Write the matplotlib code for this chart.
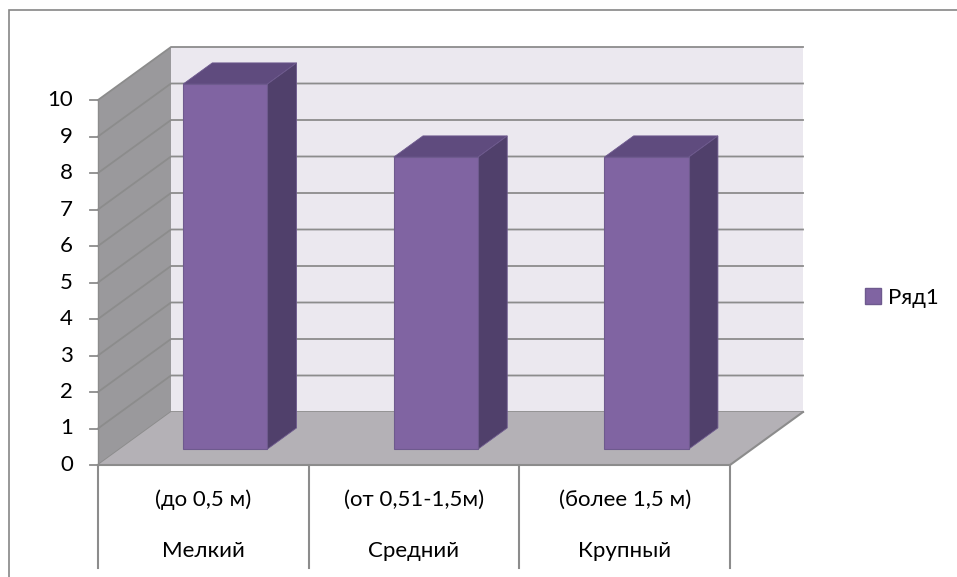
import matplotlib.pyplot as plt
from matplotlib.patches import Polygon, Rectangle, Patch
import numpy as np

# data
size_labels = ["(до 0,5 м)", "(от 0,51-1,5м)", "(более 1,5 м)"]
class_labels = ["Мелкий", "Средний", "Крупный"]
values = [10, 8, 8]
series_name = "Ряд1"
y_ticks = list(range(0, 11))

# style
BAR_FRONT = "#8064A2"
BAR_TOP = "#5F4B7E"
BAR_SIDE = "#50406B"
BAR_EDGE = "#6E5A8E"
BACK_WALL = "#EBE8EF"
SIDE_WALL = "#9A999C"
FLOOR = "#B4B1B6"
GRID = "#8C8C8C"
FS = 16

W, H = 957, 577
X0_PX, Y0_PX = 98, 465       # front plane origin in pixels
PX_PER_CAT, PX_PER_VAL = 210.67, 36.5
DX = 73 / PX_PER_CAT         # depth shift (data units)
DY = 53 / PX_PER_VAL
BAR_W, BAR_D = 0.4, (0.3, 0.7)
YMAX = 10
NCAT = len(values)

plt.rcParams["font.family"] = ["Lato", "DejaVu Sans"]

fig = plt.figure(figsize=(W / 100, H / 100), dpi=100)
ax = fig.add_axes([0, 0, 1, 1])
ax.set_xlim(-X0_PX / PX_PER_CAT, (W - X0_PX) / PX_PER_CAT)
ax.set_ylim((Y0_PX - H) / PX_PER_VAL, Y0_PX / PX_PER_VAL)
ax.set_axis_off()


def P(x, v, d):
    return (x + d * DX, v + d * DY)


def poly(pts, fc, ec="none", lw=0, z=1):
    ax.add_patch(Polygon(pts, closed=True, facecolor=fc, edgecolor=ec,
                         linewidth=lw, zorder=z, joinstyle="miter"))


# walls
poly([P(0, 0, 1), P(NCAT, 0, 1), P(NCAT, YMAX, 1), P(0, YMAX, 1)], BACK_WALL, z=1)
poly([P(0, 0, 0), P(0, YMAX, 0), P(0, YMAX, 1), P(0, 0, 1)], SIDE_WALL, z=1)
for t in y_ticks:
    a, b, c = P(0, t, 0), P(0, t, 1), P(NCAT, t, 1)
    ax.plot([a[0], b[0], c[0]], [a[1], b[1], c[1]], color=GRID, lw=1.3, zorder=2)

# floor
poly([P(0, 0, 0), P(NCAT, 0, 0), P(NCAT, 0, 1), P(0, 0, 1)], FLOOR, z=3)
a, b, c = P(0, 0, 0), P(NCAT, 0, 0), P(NCAT, 0, 1)
ax.plot([a[0], b[0], c[0]], [a[1], b[1], c[1]], color=GRID, lw=1.5, zorder=4)
a, b = P(0, 0, 0), P(0, YMAX, 0)
ax.plot([a[0], b[0]], [a[1], b[1]], color=GRID, lw=1.0, zorder=4)

# bars
for i, v in enumerate(values):
    x0 = i + (1 - BAR_W) / 2
    x1 = x0 + BAR_W
    d0, d1 = BAR_D
    poly([P(x0, v, d0), P(x1, v, d0), P(x1, v, d1), P(x0, v, d1)], BAR_TOP,
         ec=BAR_EDGE, lw=0.6, z=5)
    poly([P(x1, 0, d0), P(x1, 0, d1), P(x1, v, d1), P(x1, v, d0)], BAR_SIDE,
         ec=BAR_EDGE, lw=0.6, z=5)
    poly([P(x0, 0, d0), P(x1, 0, d0), P(x1, v, d0), P(x0, v, d0)], BAR_FRONT,
         ec=BAR_EDGE, lw=0.8, z=6)

# value axis ticks and labels
tick_len = 8 / PX_PER_CAT
for t in y_ticks:
    ax.plot([-tick_len, 0], [t, t], color=GRID, lw=1.3, zorder=4)
    ax.text(-25 / PX_PER_CAT, t, str(t), ha="right", va="center",
            fontsize=FS, color="black")

# category axis (two levels)
line_bottom = (Y0_PX - 568) / PX_PER_VAL
for k in range(NCAT + 1):
    ax.plot([k, k], [0, line_bottom], color=GRID, lw=1.5, zorder=4)
row1 = (Y0_PX - 500) / PX_PER_VAL
row2 = (Y0_PX - 551) / PX_PER_VAL
for i in range(NCAT):
    ax.text(i + 0.5, row1, size_labels[i], ha="center", va="center",
            fontsize=FS, color="black")
    ax.text(i + 0.5, row2, class_labels[i], ha="center", va="center",
            fontsize=FS, color="black")

# outer chart border
fig.patches.append(Rectangle((9 / W, -0.05), 1.1, (H - 10) / H + 0.05,
                             transform=fig.transFigure, fill=False,
                             edgecolor="#868686", linewidth=1.2))

# legend
ax.legend(handles=[Patch(facecolor=BAR_FRONT, edgecolor=BAR_EDGE, label=series_name)],
          loc="center left", bbox_to_anchor=(865 / W, 1 - 298 / H),
          bbox_transform=fig.transFigure, frameon=False, fontsize=FS,
          handlelength=0.7, handleheight=0.7, handletextpad=0.35,
          borderaxespad=0, borderpad=0)

fig.savefig("out.png", dpi=100)
